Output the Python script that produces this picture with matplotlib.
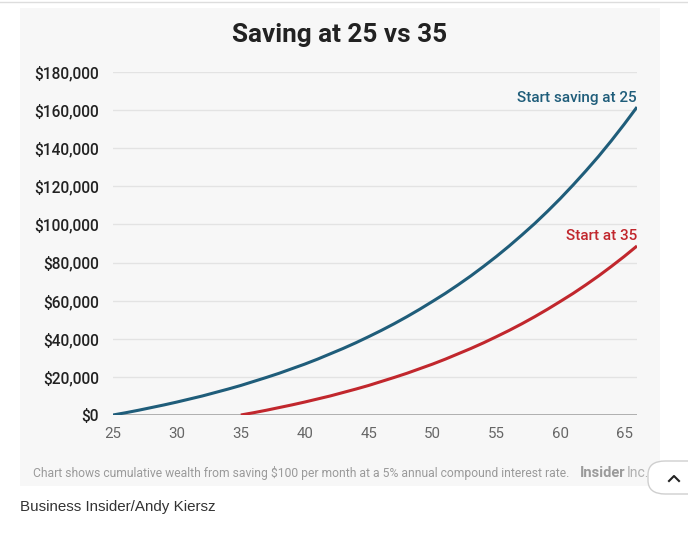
import matplotlib.pyplot as plt
from matplotlib.patches import FancyBboxPatch, Rectangle

# ages on x axis
ages_25 = list(range(25, 67))
ages_35 = list(range(35, 67))

# cumulative wealth (dollars)
start_25 = [0, 1200, 2500, 3900, 5300, 6800, 8400, 10000, 11800, 13600,
            15500, 17600, 19700, 21900, 24300, 26700, 29300, 32100, 34900, 37900,
            41100, 44400, 47900, 51600, 55500, 59600, 63800, 68300, 73000, 78000,
            83200, 88700, 94500, 100500, 106900, 113600, 120700, 128100, 135800, 144000,
            152600, 161600]
start_35 = [0, 1200, 2500, 3900, 5300, 6800, 8400, 10000, 11800, 13600,
            15500, 17600, 19700, 21900, 24300, 26700, 29300, 32100, 34900, 37900,
            41100, 44400, 47900, 51600, 55500, 59600, 63800, 68300, 73000, 78000,
            83200, 88700]

yticks = list(range(0, 180001, 20000))
xticks = [25, 30, 35, 40, 45, 50, 55, 60, 65]

BLUE = '#1f5d7a'
RED = '#c1272d'
PANEL = '#f7f7f7'

plt.rcParams['font.family'] = ['Roboto', 'DejaVu Sans']

fig = plt.figure(figsize=(6.88, 5.46), dpi=100)
fig.patch.set_facecolor('white')

W, H = 688, 546
def fx(px):
    return px / W
def fy(py):
    return 1 - py / H

# grey panel behind the chart
fig.patches.append(Rectangle((fx(20), fy(486)), fx(660) - fx(20), fy(8) - fy(486),
                             transform=fig.transFigure, facecolor=PANEL, edgecolor='none', zorder=-10))
# thin rule at the very top
fig.add_artist(plt.Line2D([0, 1], [fy(2), fy(2)], color='#dddddd', lw=1, zorder=-10))

ax = fig.add_axes([fx(113), fy(415), fx(637) - fx(113), fy(72) - fy(415)])
ax.set_zorder(1)
ax.patch.set_alpha(0)

for v in yticks[1:]:
    ax.axhline(v, color='#e3e3e3', lw=1, zorder=1)
ax.axhline(0, color='#aaaaaa', lw=1.3, zorder=2)

ax.plot(ages_25, start_25, color=BLUE, lw=2.2, zorder=3, solid_capstyle='butt')
ax.plot(ages_35, start_35, color=RED, lw=2.2, zorder=3, solid_capstyle='butt')

ax.set_xlim(25, 66)
ax.set_ylim(0, 180000)
ax.set_yticks(yticks)
ax.set_yticklabels(['${:,}'.format(v) for v in yticks], fontsize=11.2,
                   color='#222222', fontweight='medium')
ax.set_xticks(xticks)
ax.set_xticklabels([str(v) for v in xticks], fontsize=10.8, color='#666666')
ax.tick_params(axis='both', length=0)
ax.tick_params(axis='y', pad=10)
ax.tick_params(axis='x', pad=9)
for s in ax.spines.values():
    s.set_visible(False)

ax.text(66, 162500, 'Start saving at 25', color=BLUE, fontsize=11,
        ha='right', va='bottom', fontweight='medium')
ax.text(66, 90000, 'Start at 35', color=RED, fontsize=11,
        ha='right', va='bottom', fontweight='medium')

fig.text(fx(340), fy(35), 'Saving at 25 vs 35', fontsize=18.8, fontweight='bold',
         color='#222222', ha='center', va='center')

fig.text(fx(33), fy(473), 'Chart shows cumulative wealth from saving $100 per month at a 5% annual compound interest rate.',
         fontsize=8.7, color='#9a9a9a', ha='left', va='center')
fig.text(fx(580), fy(473), 'Insider', fontsize=10.5, color='#9a9a9a', fontweight='bold',
         ha='left', va='center')
fig.text(fx(627), fy(473), 'Inc.', fontsize=10, color='#b0b0b0', ha='left', va='center')

# scroll-to-top button overlapping the panel edge
fig.patches.append(FancyBboxPatch((fx(648), fy(494)), fx(705) - fx(648), fy(461) - fy(494),
                                  boxstyle='round,pad=0,rounding_size=0.025',
                                  transform=fig.transFigure, facecolor='white',
                                  edgecolor='#cfcfcf', lw=1, zorder=5))
fig.add_artist(plt.Line2D([fx(669), fx(674), fx(679)], [fy(481), fy(476), fy(481)],
                          color='#222222', lw=1.5, zorder=6))

fig.text(fx(20), fy(507), 'Business Insider/Andy Kiersz', fontsize=10.9, color='#333333',
         family='Liberation Sans', ha='left', va='center')

fig.savefig('out.png', dpi=100, facecolor='white')
